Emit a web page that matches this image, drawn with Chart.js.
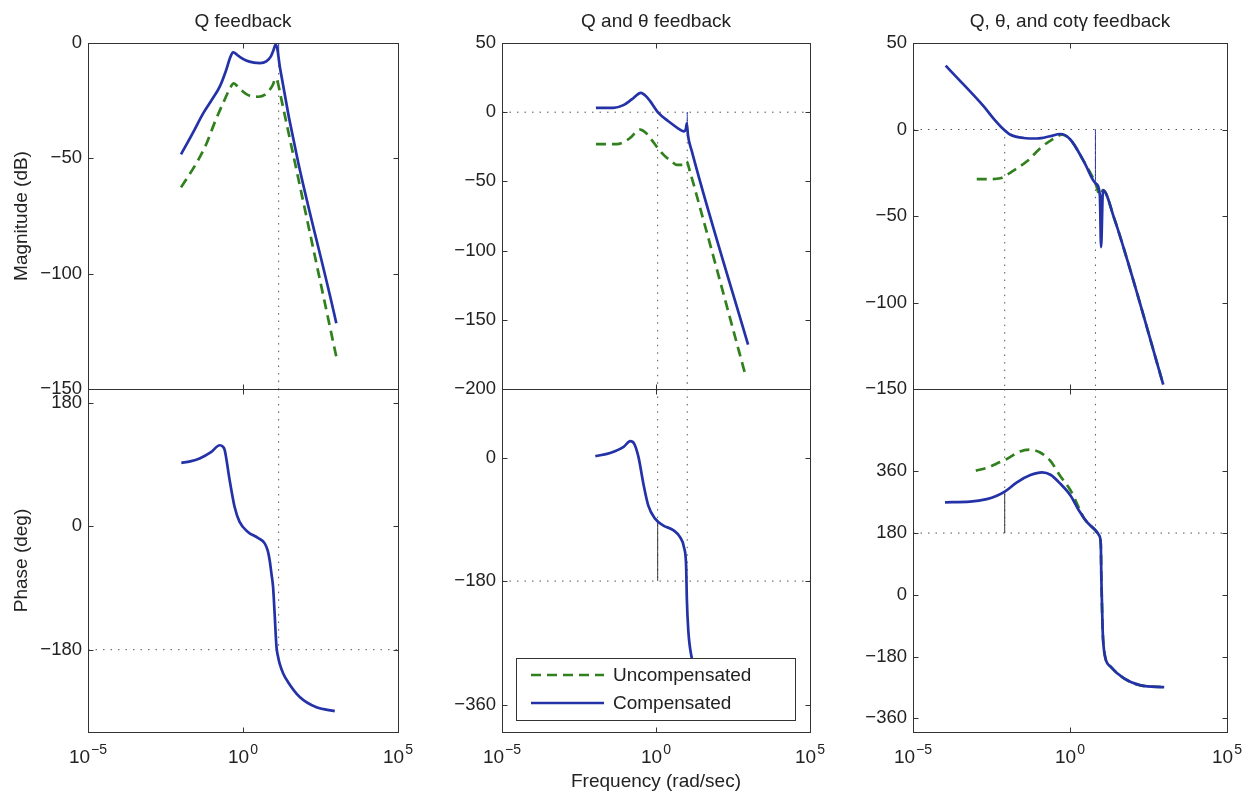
<!DOCTYPE html>
<html>
<head>
<meta charset="utf-8">
<script src="https://cdn.jsdelivr.net/npm/chart.js@4.4.1/dist/chart.umd.min.js"></script>
<style>
  body { margin: 0; background: #fff; }
  #wrap { position: relative; width: 1248px; height: 791px; overflow: hidden; }
  #wrap canvas { position: absolute; }
</style>
</head>
<body>
<div id="wrap"></div>
<script>
// frequencies are kept as log10(rad/sec)

// Q feedback
const qMagW = [-2.0, -1.6, -1.29, -1.0, -0.75, -0.55, -0.42, -0.32, -0.15, 0.1, 0.35, 0.55, 0.75, 0.9, 0.98, 1.05, 1.1, 1.13, 1.19, 3.01];
const qMagComp = [-48.3, -38.5, -30.6, -24.5, -18.9, -12.0, -6.5, -4.0, -5.6, -7.6, -8.5, -8.7, -8.0, -5.8, -3.2, -0.8, -2.0, -4.5, -10.5, -121.5];
const qMagUncW = [-2.0, -1.5, -1.18, -0.9, -0.64, -0.45, -0.3, -0.1, 0.2, 0.5, 0.75, 0.95, 1.06, 1.12, 1.2, 3.01];
const qMagUnc = [-62.6, -52.0, -43.7, -34.0, -26.0, -20.5, -17.5, -20.0, -22.8, -23.3, -22.0, -18.5, -15.3, -17.0, -22.0, -136.0];
const qPhaseW = [-1.99, -1.7, -1.4, -1.02, -0.75, -0.65, -0.59, -0.43, -0.27, -0.11, 0.16, 0.48, 0.7, 0.8, 0.86, 0.92, 0.97, 1.02, 1.08, 1.13, 1.18, 1.3, 1.45, 1.83, 2.37, 2.96];
const qPhase = [92.4, 94.5, 98.8, 108.5, 118, 116, 111, 67, 28, 6.3, -8.3, -17, -25, -36, -49.6, -70, -88.5, -127, -176, -190, -200, -215, -227, -249, -264, -269.5];

// Q and theta feedback
const qtMagW = [-1.95, -1.38, -1.06, -0.79, -0.49, -0.3, -0.19, 0.08, 0.4, 0.78, 0.9, 0.97, 1.0, 1.04, 1.16, 2.99];
const qtMagComp = [3.1, 3.1, 5.1, 9.2, 14.0, 11.0, 8.0, -0.5, -6.5, -12.6, -13.8, -12.0, -8.0, -17.0, -28.0, -168.0];
const qtMagUncW = [-1.95, -1.27, -1.0, -0.84, -0.52, -0.3, -0.19, 0.24, 0.5, 0.67, 0.85, 0.99, 1.1, 1.43, 2.88];
const qtMagUnc = [-23, -23, -21, -18.6, -12.6, -15.5, -18.6, -30.7, -35.5, -38, -38, -35.5, -42.8, -69, -188];
const qtPhaseW = [-1.97, -1.49, -1.05, -0.84, -0.71, -0.57, -0.41, -0.25, -0.03, 0.24, 0.57, 0.78, 0.91, 0.98, 1.0, 1.05, 1.16, 1.3, 1.6, 2.0, 2.5, 2.96];
const qtPhase = [2, 6.8, 15.6, 24, 20.5, 1, -38, -70, -89, -99, -106, -116, -131, -160, -204, -253, -292, -318, -342, -358, -368, -372];

// Q, theta and cot(gamma) feedback
const qtcMagW = [-3.96, -3.4, -2.76, -2.4, -2.17, -1.91, -1.48, -1.05, -0.63, -0.31, 0.01, 0.44, 0.81, 0.95, 0.99, 1.05, 1.41, 1.85, 2.97];
const qtcMagComp = [36.9, 26.2, 13.6, 5.5, 1.0, -2.9, -4.9, -5.2, -3.9, -2.6, -5.8, -18.4, -31, -37.8, -68, -35, -51.5, -77, -147.5];
const qtcMagUncW = [-2.97, -2.6, -2.22, -1.85, -1.37, -0.94, -0.57, -0.25, 0.01, 0.44, 0.81, 0.95, 1.05, 1.41, 1.85, 2.97];
const qtcMagUnc = [-28.7, -28.7, -28.2, -24.3, -18.4, -10.7, -5.8, -3.0, -5.8, -18.4, -31, -37.8, -35, -51.5, -77, -147.5];
const qtcPhaseW = [-3.98, -3.18, -2.65, -2.33, -2.08, -1.69, -1.26, -0.89, -0.62, -0.3, 0.02, 0.29, 0.55, 0.82, 0.93, 0.98, 1.0, 1.04, 1.11, 1.3, 1.72, 2.25, 3.0];
const qtcPhaseComp = [269.7, 271.6, 279, 289, 300.7, 328, 349, 357, 350, 323, 289, 245, 211, 187, 173, 148, 42, -104, -177, -210, -244, -264, -269];
const qtcPhaseUncW = [-3.0, -2.65, -2.33, -2.01, -1.59, -1.27, -0.95, -0.63, -0.3, 0.02, 0.29, 0.45, 0.55, 0.82, 0.93, 0.98, 1.0, 1.04, 1.11, 1.3, 1.72, 2.25, 3.0];
const qtcPhaseUnc = [362, 370, 383, 396, 418, 423, 415, 391, 345, 304, 252, 222, 211, 187, 173, 148, 42, -104, -177, -210, -244, -264, -269];

// crossover frequencies (log10) and margin stems
const crossQ = [1.15];
const crossQt = [0.054, 1.015];
const crossQtc = [-2.08, 0.81];
const gainStemQ = [0, -5];
const gainStemQt = [0, -10];
const gainStemQtc = [0, -30];
const phaseStemQt = [-94, -180];
const phaseStemQtc = [301, 180];

const titles = ['Q feedback', 'Q and \u03b8 feedback', 'Q, \u03b8, and cot\u03b3 feedback'];
const seriesNames = ['Uncompensated', 'Compensated'];
const magRange = [[-150, 0], [-200, 50], [-150, 50]];
const phaseRange = [[-300, 200], [-400, 100], [-400, 600]];
const magTicks = [[-150, -100, -50, 0], [-200, -150, -100, -50, 0, 50], [-150, -100, -50, 0, 50]];
const phaseTicks = [[-180, 0, 180], [-360, -180, 0], [-360, -180, 0, 180, 360]];
const phaseRef = [-180, -180, 180];
const decades = [-5, 0, 5];

const blue = 'rgb(36, 50, 168)';
const green = 'rgb(48, 128, 30)';
const FONT = '"Liberation Sans", Arial, Helvetica, sans-serif';
Chart.defaults.font.family = FONT;
Chart.defaults.color = '#222';

// page layout of the axes
const colLeft = [88, 502, 913];
const colRight = [398, 810, 1227];
const magTop = 43, split = 389, phaseBottom = 732;
const axisW = 88, padR = 20;

function series(logW, vals, style) {
  return Object.assign({
    data: logW.map((lw, i) => ({ x: 10 ** lw, y: vals[i] })),
    pointRadius: 0,
    fill: false,
    cubicInterpolationMode: 'monotone'
  }, style);
}
const compStyle = { label: seriesNames[1], borderColor: blue, borderWidth: 2.7, order: 1 };
const uncStyle = { label: seriesNames[0], borderColor: green, borderWidth: 2.7, borderDash: [10, 6], order: 2 };
const dotStyle = { borderColor: '#555', borderWidth: 1, borderDash: [1.5, 6], order: 5 };
const stemStyle = { borderColor: '#333', borderWidth: 1, order: 3 };
const gainStyle = { borderColor: blue, borderWidth: 1, order: 3 };

const vline = (lw, ys, style) => series([lw, lw], ys, style);
const hline = (y, style) => series([-5, 5], [y, y], style);

// frame with inward ticks on all four sides
const boxPlugin = {
  id: 'box',
  afterDatasetsDraw(chart) {
    const { ctx, chartArea: a, scales: { x, y } } = chart;
    ctx.save();
    ctx.strokeStyle = '#333';
    ctx.lineWidth = 1;
    const l = Math.round(a.left) + 0.5, r = Math.round(a.right) + 0.5;
    const t = Math.round(a.top) + 0.5, b = Math.round(a.bottom) + 0.5;
    ctx.strokeRect(l, t, r - l, b - t);
    ctx.beginPath();
    y.ticks.forEach(tk => {
      const py = Math.round(y.getPixelForValue(tk.value)) + 0.5;
      ctx.moveTo(l, py); ctx.lineTo(l + 5, py);
      ctx.moveTo(r, py); ctx.lineTo(r - 5, py);
    });
    decades.forEach(d => {
      const px = Math.round(x.getPixelForValue(10 ** d)) + 0.5;
      ctx.moveTo(px, t); ctx.lineTo(px, t + 5);
      ctx.moveTo(px, b); ctx.lineTo(px, b - 5);
    });
    ctx.stroke();
    ctx.restore();
  }
};

// 10^n labels under the phase axes
const decadeLabels = {
  id: 'decadeLabels',
  afterDraw(chart) {
    const { ctx, chartArea: a, scales: { x } } = chart;
    ctx.save();
    ctx.fillStyle = '#222';
    ctx.textBaseline = 'alphabetic';
    ctx.textAlign = 'left';
    decades.forEach(d => {
      const px = x.getPixelForValue(10 ** d);
      const sup = d < 0 ? '\u2212' + (-d) : String(d);
      ctx.font = '19px ' + FONT;
      const wb = ctx.measureText('10').width;
      ctx.font = '14px ' + FONT;
      const ws = ctx.measureText(sup).width;
      const x0 = px - (wb + ws + 1) / 2;
      ctx.font = '19px ' + FONT;
      ctx.fillText('10', x0, a.bottom + 31);
      ctx.font = '14px ' + FONT;
      ctx.fillText(sup, x0 + wb + 1, a.bottom + 22);
    });
    ctx.restore();
  }
};

// boxed legend in the lower part of the middle phase axes
const legendBox = {
  id: 'legendBox',
  afterDraw(chart) {
    const { ctx, chartArea: a } = chart;
    const L = a.left + 14, R = a.right - 15, T = a.bottom - 74, B = a.bottom - 12;
    ctx.save();
    ctx.fillStyle = '#fff';
    ctx.fillRect(L, T, R - L, B - T);
    ctx.strokeStyle = '#333';
    ctx.lineWidth = 1;
    ctx.strokeRect(Math.round(L) + 0.5, Math.round(T) + 0.5, Math.round(R - L), Math.round(B - T));
    ctx.font = '19px ' + FONT;
    ctx.textBaseline = 'middle';
    ctx.textAlign = 'left';
    const rows = [uncStyle, compStyle];
    rows.forEach((st, i) => {
      const yy = T + 17 + i * 28;
      ctx.beginPath();
      ctx.strokeStyle = st.borderColor;
      ctx.lineWidth = st.borderWidth;
      ctx.setLineDash(st.borderDash || []);
      ctx.moveTo(L + 15, yy);
      ctx.lineTo(L + 88, yy);
      ctx.stroke();
      ctx.setLineDash([]);
      ctx.fillStyle = '#222';
      ctx.fillText(st.label, L + 97, yy + 1);
    });
    ctx.restore();
  }
};

const wrap = document.getElementById('wrap');
function makeCanvas(left, top, w, h) {
  const c = document.createElement('canvas');
  c.width = w; c.height = h;
  c.style.left = left + 'px'; c.style.top = top + 'px';
  c.style.width = w + 'px'; c.style.height = h + 'px';
  wrap.appendChild(c);
  return c;
}

function bode(col, row, datasets, extra) {
  const isMag = row === 0;
  const left = colLeft[col] - axisW;
  const w = colRight[col] - colLeft[col] + axisW + padR;
  const top = isMag ? 0 : split - 30;
  const h = isMag ? split + 20 : 791 - top;
  const range = isMag ? magRange[col] : phaseRange[col];
  const tickVals = isMag ? magTicks[col] : phaseTicks[col];
  const xH = isMag ? 0 : 791 - phaseBottom;
  const plugins = [boxPlugin];
  if (!isMag) plugins.push(decadeLabels);
  if (extra) plugins.push(extra);

  new Chart(makeCanvas(left, top, w, h), {
    type: 'line',
    data: { datasets },
    options: {
      responsive: false,
      animation: false,
      devicePixelRatio: 1,
      layout: { padding: { top: isMag ? 0 : 30, right: padR, bottom: isMag ? 20 : 0, left: 0 } },
      plugins: {
        legend: { display: false },
        tooltip: { enabled: false },
        title: {
          display: isMag,
          fullSize: false,
          text: titles[col],
          color: '#222',
          font: { size: 19, weight: 'normal', lineHeight: 1.2 },
          padding: { top: 10, bottom: 10.2 }
        }
      },
      scales: {
        x: {
          type: 'logarithmic',
          min: 1e-5,
          max: 1e5,
          grid: { display: false, drawTicks: false },
          border: { display: false },
          ticks: { display: false },
          title: {
            display: !isMag && col === 1,
            text: 'Frequency (rad/sec)',
            color: '#222',
            font: { size: 19, lineHeight: 1.0 },
            padding: { top: 0, bottom: 0 }
          },
          afterFit: s => { s.height = xH; }
        },
        y: {
          type: 'linear',
          min: range[0],
          max: range[1],
          grid: { display: false, drawTicks: false },
          border: { display: false },
          ticks: {
            autoSkip: false,
            padding: 6,
            color: '#222',
            font: { size: 18.5 },
            callback: v => String(v).replace('-', '\u2212')
          },
          afterBuildTicks: s => { s.ticks = tickVals.map(v => ({ value: v })); },
          title: {
            display: col === 0,
            text: isMag ? 'Magnitude (dB)' : 'Phase (deg)',
            color: '#222',
            font: { size: 19, lineHeight: 1.2 },
            padding: { top: 10, bottom: 0 }
          },
          afterFit: s => { s.width = axisW; }
        }
      }
    },
    plugins
  });
}

// Q feedback
bode(0, 0, [
  series(qMagW, qMagComp, compStyle),
  series(qMagUncW, qMagUnc, uncStyle),
  hline(0, dotStyle),
  vline(crossQ[0], [0, magRange[0][0]], dotStyle),
  vline(crossQ[0], gainStemQ, gainStyle)
]);
bode(0, 1, [
  series(qPhaseW, qPhase, compStyle),
  hline(phaseRef[0], dotStyle),
  vline(crossQ[0], [phaseRange[0][1], phaseRef[0]], dotStyle)
]);

// Q and theta feedback
bode(1, 0, [
  series(qtMagW, qtMagComp, compStyle),
  series(qtMagUncW, qtMagUnc, uncStyle),
  hline(0, dotStyle),
  vline(crossQt[0], [0, magRange[1][0]], dotStyle),
  vline(crossQt[1], [0, magRange[1][0]], dotStyle),
  vline(crossQt[1], gainStemQt, gainStyle)
]);
bode(1, 1, [
  series(qtPhaseW, qtPhase, compStyle),
  hline(phaseRef[1], dotStyle),
  vline(crossQt[0], [phaseRange[1][1], phaseRef[1]], dotStyle),
  vline(crossQt[1], [phaseRange[1][1], phaseRef[1]], dotStyle),
  vline(crossQt[0], phaseStemQt, stemStyle)
], legendBox);

// Q, theta and cot(gamma) feedback
bode(2, 0, [
  series(qtcMagW, qtcMagComp, compStyle),
  series(qtcMagUncW, qtcMagUnc, uncStyle),
  hline(0, dotStyle),
  vline(crossQtc[0], [0, magRange[2][0]], dotStyle),
  vline(crossQtc[1], [0, magRange[2][0]], dotStyle),
  vline(crossQtc[1], gainStemQtc, gainStyle)
]);
bode(2, 1, [
  series(qtcPhaseW, qtcPhaseComp, compStyle),
  series(qtcPhaseUncW, qtcPhaseUnc, uncStyle),
  hline(phaseRef[2], dotStyle),
  vline(crossQtc[0], [phaseRange[2][1], phaseRef[2]], dotStyle),
  vline(crossQtc[1], [phaseRange[2][1], phaseRef[2]], dotStyle),
  vline(crossQtc[0], phaseStemQtc, stemStyle)
]);
</script>
</body>
</html>
